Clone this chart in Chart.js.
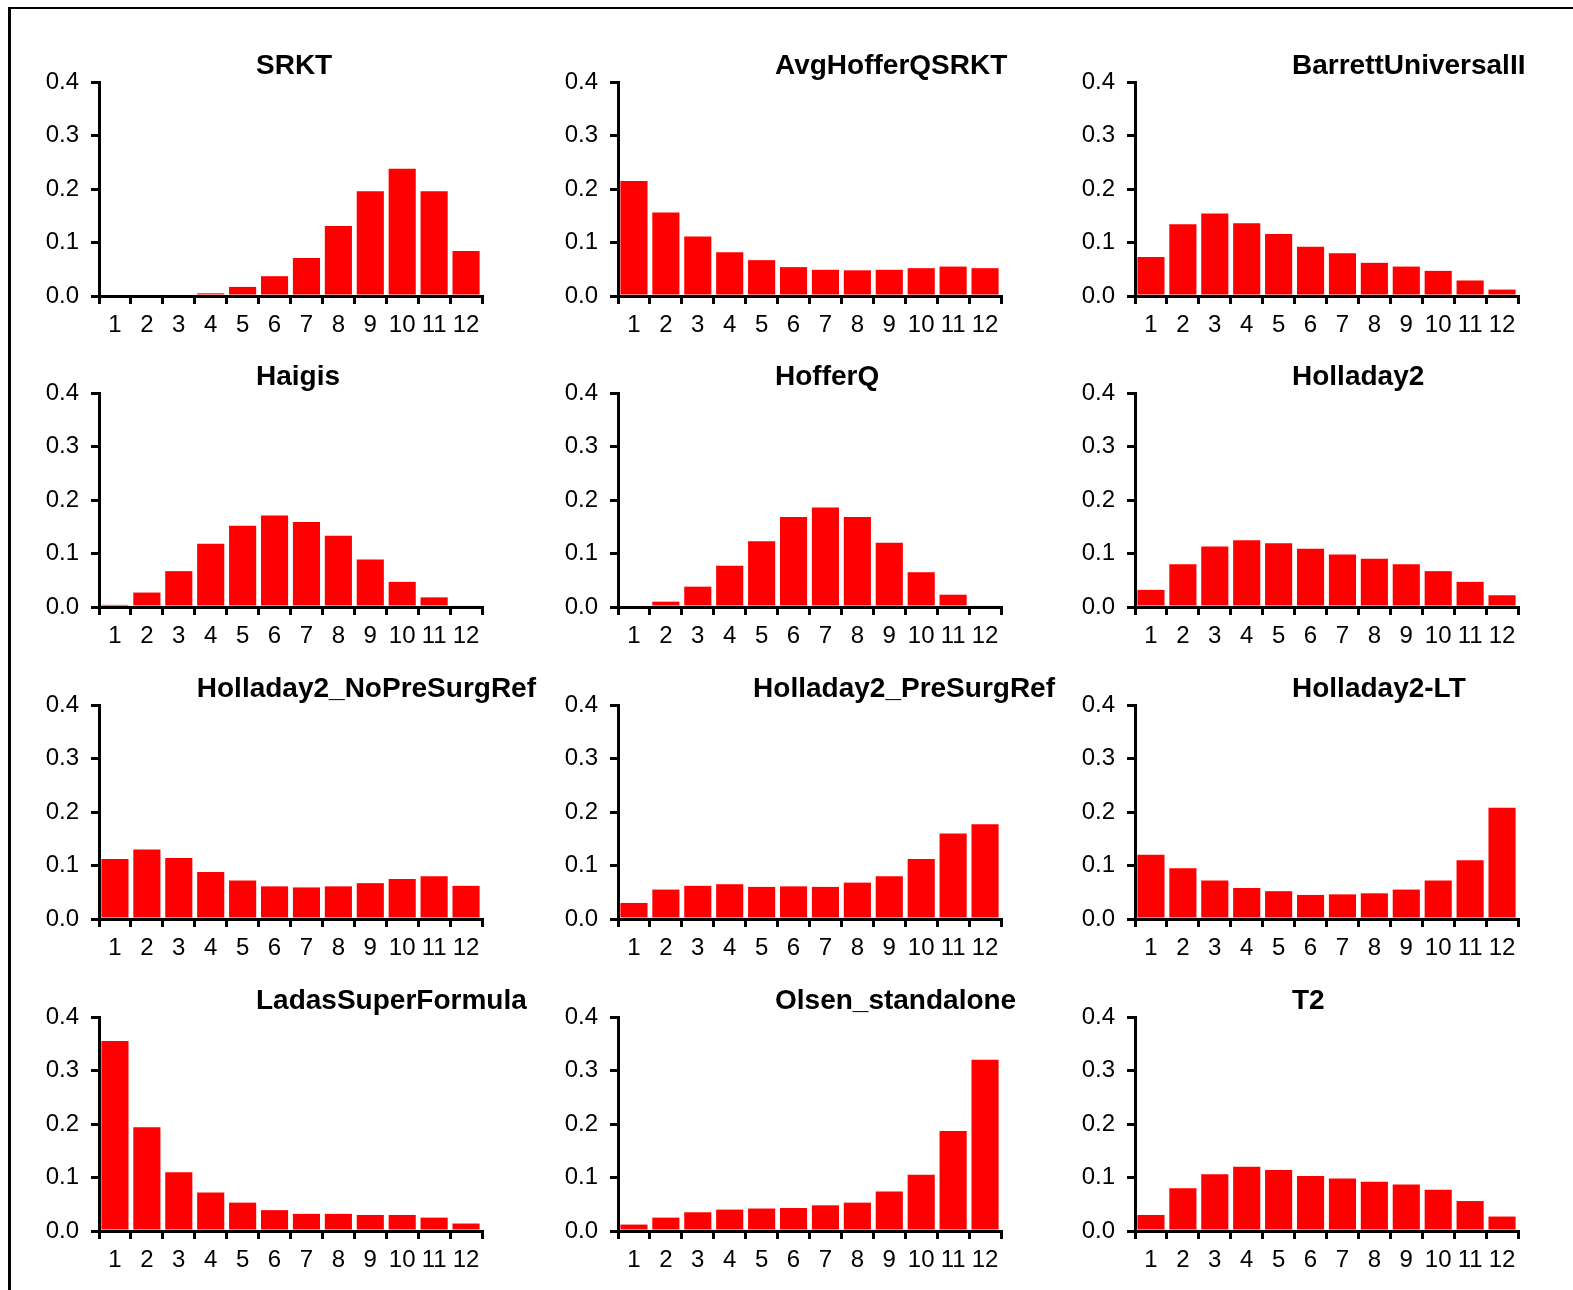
<!DOCTYPE html>
<html>
<head>
<meta charset="utf-8">
<script src="https://cdn.jsdelivr.net/npm/chart.js@4.4.1/dist/chart.umd.min.js"></script>
<style>
  body { margin: 0; background: #fff; width: 1573px; height: 1290px; overflow: hidden; position: relative; }
  #frame { position: absolute; left: 8px; top: 7px; width: 1620px; height: 1340px;
           border-top: 2px solid #000; border-left: 3px solid #000; }
  canvas { position: absolute; }
</style>
</head>
<body>
<div id="frame"></div>
<script>
// bins on the x axis
const bins = ['1', '2', '3', '4', '5', '6', '7', '8', '9', '10', '11', '12'];
const yTicks = [0, 0.1, 0.2, 0.3, 0.4];

// share of cases per bin, one array per formula
const srkt = [0, 0, 0, 0.005, 0.017, 0.037, 0.071, 0.131, 0.196, 0.238, 0.196, 0.084];
const avgHofferQSrkt = [0.215, 0.156, 0.111, 0.082, 0.067, 0.054, 0.049, 0.048, 0.049, 0.052, 0.055, 0.052];
const barrett = [0.073, 0.134, 0.154, 0.136, 0.116, 0.092, 0.080, 0.062, 0.055, 0.047, 0.029, 0.012];
const haigis = [0.004, 0.027, 0.067, 0.118, 0.152, 0.171, 0.159, 0.133, 0.089, 0.047, 0.018, 0.003];
const hofferQ = [0, 0.010, 0.038, 0.077, 0.123, 0.168, 0.186, 0.168, 0.120, 0.065, 0.023, 0.003];
const holladay2 = [0.032, 0.080, 0.113, 0.125, 0.119, 0.109, 0.098, 0.090, 0.080, 0.067, 0.047, 0.022];
const holladay2NoRef = [0.112, 0.130, 0.114, 0.088, 0.072, 0.061, 0.059, 0.061, 0.067, 0.075, 0.080, 0.062];
const holladay2Ref = [0.030, 0.055, 0.062, 0.065, 0.060, 0.061, 0.060, 0.068, 0.080, 0.112, 0.160, 0.177];
const holladay2LT = [0.120, 0.095, 0.072, 0.058, 0.052, 0.045, 0.046, 0.048, 0.055, 0.072, 0.110, 0.208];
const ladas = [0.355, 0.194, 0.110, 0.072, 0.053, 0.039, 0.032, 0.032, 0.030, 0.030, 0.025, 0.014];
const olsen = [0.012, 0.025, 0.035, 0.040, 0.042, 0.043, 0.048, 0.053, 0.074, 0.105, 0.187, 0.320];
const t2 = [0.030, 0.080, 0.106, 0.120, 0.114, 0.103, 0.098, 0.092, 0.087, 0.077, 0.056, 0.027];

const titles = ['SRKT', 'AvgHofferQSRKT', 'BarrettUniversalII',
                'Haigis', 'HofferQ', 'Holladay2',
                'Holladay2_NoPreSurgRef', 'Holladay2_PreSurgRef', 'Holladay2-LT',
                'LadasSuperFormula', 'Olsen_standalone', 'T2'];
const series = [srkt, avgHofferQSrkt, barrett,
                haigis, hofferQ, holladay2,
                holladay2NoRef, holladay2Ref, holladay2LT,
                ladas, olsen, t2];

// grid of small panels
const colX = [99, 618, 1135];      // y axis position of each column
const rowY = [82, 393, 705, 1017]; // top of the plot area for each row
const plotW = 383, plotH = 214;
const padL = 95, padT = 50, canW = 560, canH = 300;

const fontFamily = '"Liberation Sans", Arial, Helvetica, sans-serif';

// bold title, pushed left when it would run past the panel
const panelTitle = {
  id: 'panelTitle',
  afterDraw(chart, args, opts) {
    const { ctx, chartArea } = chart;
    ctx.save();
    ctx.font = 'bold 28px ' + fontFamily;
    ctx.fillStyle = '#000';
    ctx.textBaseline = 'alphabetic';
    const w = ctx.measureText(opts.text).width;
    const x = Math.min(chartArea.left + 157, chartArea.left + 437 - w);
    ctx.fillText(opts.text, x, chartArea.top - 8);
    ctx.restore();
  }
};

const axisLine = { color: '#000', width: 3 };
const tickGrid = { drawOnChartArea: false, drawTicks: true, tickLength: 8, lineWidth: 3, color: '#000' };

titles.forEach((name, i) => {
  const col = i % 3, row = Math.floor(i / 3);
  const cv = document.createElement('canvas');
  cv.width = canW;
  cv.height = canH;
  cv.style.left = (colX[col] - padL) + 'px';
  cv.style.top = (rowY[row] - padT) + 'px';
  document.body.appendChild(cv);

  new Chart(cv.getContext('2d'), {
    type: 'bar',
    data: {
      labels: bins,
      datasets: [{
        data: series[i],
        backgroundColor: '#ff0000',
        borderWidth: 0,
        barPercentage: 0.85,
        categoryPercentage: 1
      }]
    },
    options: {
      responsive: false,
      animation: false,
      devicePixelRatio: 1,
      layout: { padding: { left: 0, top: padT, right: canW - padL - plotW, bottom: 0 } },
      plugins: {
        legend: { display: false },
        tooltip: { enabled: false },
        panelTitle: { text: name }
      },
      scales: {
        x: {
          z: 1,
          afterFit: s => { s.height = canH - padT - plotH; },
          border: axisLine,
          grid: tickGrid,
          ticks: { color: '#000', font: { family: fontFamily, size: 24 }, padding: 7, maxRotation: 0, autoSkip: false }
        },
        y: {
          z: 1,
          min: yTicks[0],
          max: yTicks[yTicks.length - 1],
          afterFit: s => { s.width = padL; },
          border: axisLine,
          grid: tickGrid,
          ticks: {
            stepSize: 0.1,
            color: '#000',
            padding: 12,
            font: { family: fontFamily, size: 24 },
            callback: v => v.toFixed(1)
          }
        }
      }
    },
    plugins: [panelTitle]
  });
});
</script>
</body>
</html>
